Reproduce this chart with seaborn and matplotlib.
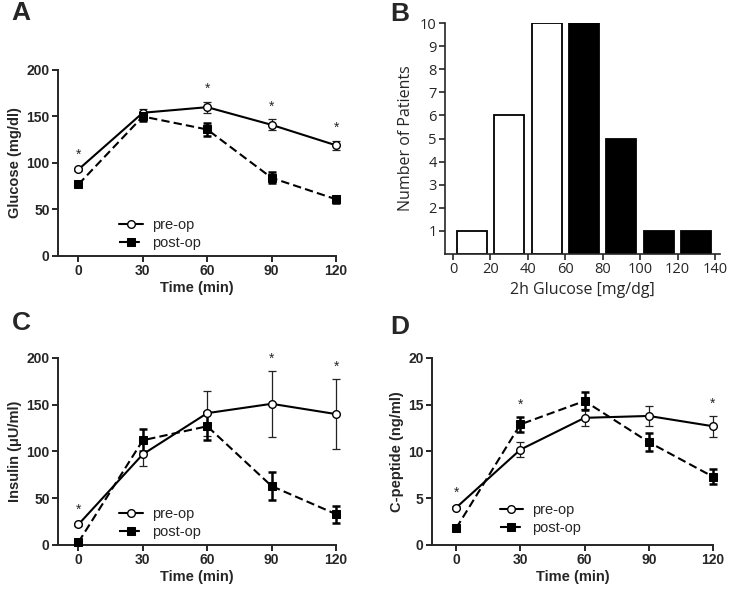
import numpy as np
import pandas as pd
import matplotlib
matplotlib.use("Agg")
import matplotlib.pyplot as plt
import seaborn as sns

# ---- data ----
time = [0, 30, 60, 90, 120]

glucose_pre = [93, 154, 160, 141, 119]
glucose_pre_err = [2, 4, 6, 6, 5]
glucose_post = [77, 150, 136, 84, 61]
glucose_post_err = [2, 5, 7, 6, 4]
glucose_stars = [0, 60, 90, 120]

insulin_pre = [22, 97, 141, 151, 140]
insulin_pre_err = [2, 12, 24, 35, 37]
insulin_post = [3, 112, 127, 63, 33]
insulin_post_err = [2, 12, 15, 15, 9]
insulin_stars = [0, 90, 120]

cpep_pre = [4.0, 10.2, 13.6, 13.8, 12.7]
cpep_pre_err = [0.2, 0.8, 0.9, 1.1, 1.1]
cpep_post = [1.8, 12.9, 15.4, 11.0, 7.3]
cpep_post_err = [0.2, 0.8, 1.0, 1.0, 0.8]
cpep_stars = [0, 30, 120]

hist_centers = [10, 30, 50, 70, 90, 110, 130]
hist_counts = [1, 6, 10, 10, 5, 1, 1]
hist_group = ["low", "low", "low", "high", "high", "high", "high"]

sns.set_theme(style="ticks")
ARIAL = ["Liberation Sans", "DejaVu Sans"]
plt.rcParams["font.family"] = ARIAL

fig = plt.figure(figsize=(7.3, 5.92), dpi=100)


def time_panel(rect, pre, pre_err, post, post_err, stars, ylim, yticks, ylabel, xmin):
    ax = fig.add_axes(rect)
    sns.lineplot(x=time, y=pre, ax=ax, color="black", lw=1.5, marker="o",
                 markersize=5.5, markerfacecolor="white", markeredgecolor="black",
                 markeredgewidth=1.0, label="pre-op", clip_on=False, zorder=3)
    sns.lineplot(x=time, y=post, ax=ax, color="black", lw=1.5, marker="s",
                 markersize=6, markeredgecolor="black", linestyle=(0, (4, 2)),
                 label="post-op", clip_on=False, zorder=4)
    ax.errorbar(time, pre, yerr=pre_err, fmt="none", ecolor="#222222",
                elinewidth=0.9, capsize=3, capthick=0.9, zorder=2, clip_on=False)
    ax.errorbar(time, post, yerr=post_err, fmt="none", ecolor="black",
                elinewidth=1.8, capsize=3, capthick=1.8, zorder=2, clip_on=False)
    # significance stars above the highest error bar
    tops = {t: max(a + ea, b + eb) for t, a, ea, b, eb in
            zip(time, pre, pre_err, post, post_err)}
    for t in stars:
        ax.annotate("*", (t, tops[t]), xytext=(0, 4), textcoords="offset points",
                    ha="center", va="bottom", fontsize=10, family=ARIAL)
    ax.set_xlim(xmin, 120)
    ax.set_ylim(*ylim)
    ax.set_xticks(time)
    ax.set_yticks(yticks)
    ax.set_xlabel("Time (min)", fontsize=10.5, fontweight="bold", family=ARIAL, labelpad=2)
    ax.set_ylabel(ylabel, fontsize=10.5, fontweight="bold", family=ARIAL, labelpad=3)
    for lab in ax.get_xticklabels() + ax.get_yticklabels():
        lab.set_family(ARIAL)
        lab.set_fontweight("bold")
        lab.set_fontsize(10)
    ax.tick_params(width=1.4, length=4, pad=2)
    for s in ["left", "bottom"]:
        ax.spines[s].set_linewidth(1.4)
    sns.despine(ax=ax)
    return ax


def add_legend(ax, anchor):
    leg = ax.legend(loc="lower left", bbox_to_anchor=anchor, frameon=False,
                    prop={"family": ARIAL, "size": 10.5}, handlelength=1.6,
                    handletextpad=0.6, labelspacing=0.3, borderaxespad=0)
    return leg


axA = time_panel([0.0795, 0.5676, 0.3808, 0.3142], glucose_pre, glucose_pre_err,
                 glucose_post, glucose_post_err, glucose_stars, (0, 200),
                 [0, 50, 100, 150, 200], "Glucose (mg/dl)", -9.5)
add_legend(axA, (0.2, 0.0))

axC = time_panel([0.0795, 0.0794, 0.3808, 0.3159], insulin_pre, insulin_pre_err,
                 insulin_post, insulin_post_err, insulin_stars, (0, 200),
                 [0, 50, 100, 150, 200], "Insulin (\u03bcU/ml)", -9.5)
add_legend(axC, (0.2, 0.0))

axD = time_panel([0.5918, 0.0794, 0.3849, 0.3159], cpep_pre, cpep_pre_err,
                 cpep_post, cpep_post_err, cpep_stars, (0, 20),
                 [0, 5, 10, 15, 20], "C-peptide (ng/ml)", -11.3)
add_legend(axD, (0.22, 0.02))

# ---- panel B: histogram of 2h glucose ----
axB = fig.add_axes([0.6096, 0.5709, 0.3767, 0.3902])
df_hist = pd.DataFrame({"center": hist_centers, "count": hist_counts, "group": hist_group})
sns.barplot(data=df_hist, x="center", y="count", hue="group", ax=axB,
            native_scale=True, dodge=False, width=0.8,
            palette={"low": "white", "high": "black"},
            edgecolor="black", linewidth=1.3, legend=False)
axB.set_xlim(-4.3, 142.7)
axB.set_ylim(0, 10)
axB.set_xticks(range(0, 141, 20))
axB.set_yticks(range(1, 11))
bfont = ["Open Sans", "DejaVu Sans"]
axB.set_xlabel("2h Glucose [mg/dg]", fontsize=11.5, family=bfont, labelpad=3)
axB.set_ylabel("Number of Patients", fontsize=11.5, family=bfont, labelpad=4)
for lab in axB.get_xticklabels() + axB.get_yticklabels():
    lab.set_family(bfont)
    lab.set_fontsize(10.5)
axB.tick_params(width=1.2, length=4, pad=2)
for s in ["left", "bottom"]:
    axB.spines[s].set_linewidth(1.2)
sns.despine(ax=axB)

# panel letters
for letter, x, y in [("A", 0.016, 0.978), ("B", 0.535, 0.976),
                     ("C", 0.016, 0.454), ("D", 0.535, 0.448)]:
    fig.text(x, y, letter, fontsize=19, fontweight="bold", family=ARIAL,
             va="center", ha="left")

fig.savefig("out.png", dpi=100)
